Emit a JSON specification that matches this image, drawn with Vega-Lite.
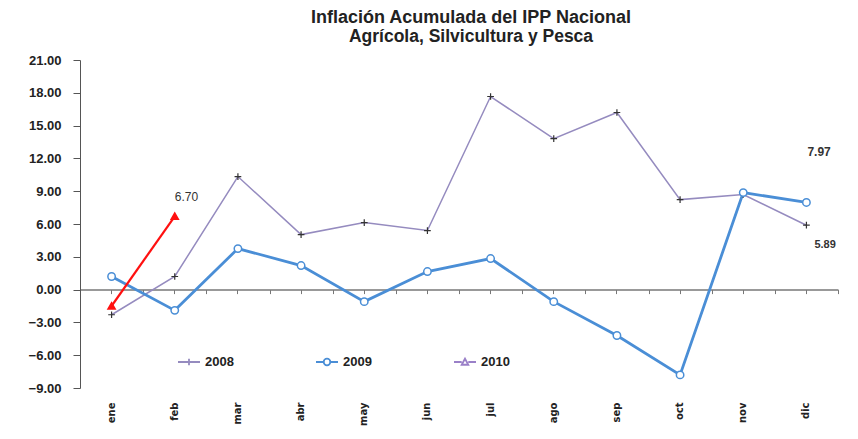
{
  "$schema": "https://vega.github.io/schema/vega-lite/v6.json",
  "width": 758,
  "height": 328,
  "autosize": "none",
  "padding": {"left": 80, "top": 60, "right": 20, "bottom": 51},
  "background": "white",
  "config": {
    "view": {"stroke": null},
    "font": "Liberation Sans",
    "axisY": {
      "title": null,
      "labelOverlap": false,
      "grid": false, "tickSize": 7, "tickColor": "#555", "domainColor": "#555",
      "labelPadding": 12, "labelFont": "Liberation Sans", "labelFontSize": 13,
      "labelFontWeight": "bold", "labelColor": "#222"
    }
  },
  "title": {
    "text": "Inflación Acumulada del IPP Nacional",
    "subtitle": "Agrícola, Silvicultura y Pesca",
    "font": "Liberation Sans",
    "fontSize": 18,
    "fontWeight": "bold",
    "color": "#222",
    "subtitleFont": "Liberation Sans",
    "subtitleFontSize": 17.5,
    "subtitleFontWeight": "bold",
    "subtitleColor": "#222",
    "subtitlePadding": 1,
    "anchor": "middle",
    "dx": 12,
    "offset": 9
  },
  "data": {
    "values": [
      {"mes": "ene", "serie": "2008", "valor": -2.3},
      {"mes": "feb", "serie": "2008", "valor": 1.2},
      {"mes": "mar", "serie": "2008", "valor": 10.34},
      {"mes": "abr", "serie": "2008", "valor": 5.03},
      {"mes": "may", "serie": "2008", "valor": 6.13},
      {"mes": "jun", "serie": "2008", "valor": 5.4},
      {"mes": "jul", "serie": "2008", "valor": 17.66},
      {"mes": "ago", "serie": "2008", "valor": 13.8},
      {"mes": "sep", "serie": "2008", "valor": 16.2},
      {"mes": "oct", "serie": "2008", "valor": 8.23},
      {"mes": "nov", "serie": "2008", "valor": 8.7},
      {"mes": "dic", "serie": "2008", "valor": 5.89, "etiqueta": "5.89"},
      {"mes": "ene", "serie": "2009", "valor": 1.2},
      {"mes": "feb", "serie": "2009", "valor": -1.9},
      {"mes": "mar", "serie": "2009", "valor": 3.75},
      {"mes": "abr", "serie": "2009", "valor": 2.2},
      {"mes": "may", "serie": "2009", "valor": -1.1},
      {"mes": "jun", "serie": "2009", "valor": 1.65},
      {"mes": "jul", "serie": "2009", "valor": 2.84},
      {"mes": "ago", "serie": "2009", "valor": -1.1},
      {"mes": "sep", "serie": "2009", "valor": -4.2},
      {"mes": "oct", "serie": "2009", "valor": -7.8},
      {"mes": "nov", "serie": "2009", "valor": 8.87},
      {"mes": "dic", "serie": "2009", "valor": 7.97, "etiqueta": "7.97"},
      {"mes": "ene", "serie": "2010", "valor": -1.5},
      {"mes": "feb", "serie": "2010", "valor": 6.7, "etiqueta": "6.70"}
    ]
  },
  "resolve": {"axis": {"x": "independent"}},
  "layer": [
    {
      "transform": [{"filter": "datum.serie != '2010'"}],
      "mark": {"type": "line"},
      "encoding": {
        "x": {
          "field": "mes", "type": "ordinal",
          "sort": ["ene","feb","mar","abr","may","jun","jul","ago","sep","oct","nov","dic"],
          "scale": {"paddingInner": 0, "paddingOuter": 0},
          "axis": {
            "orient": "bottom", "title": null, "domain": false, "ticks": false,
            "labelAngle": 270, "labelPadding": 14, "labelFont": "DejaVu Sans",
            "labelFontSize": 10, "labelFontWeight": "bold", "labelColor": "#222"
          }
        },
        "y": {
          "field": "valor", "type": "quantitative",
          "scale": {"domain": [-9, 21], "nice": false, "zero": false},
          "axis": {"title": null, "values": [-9,-6,-3,0,3,6,9,12,15,18,21], "tickCount": 20, "format": ".2f", "labelOverlap": false}
        },
        "color": {
          "field": "serie", "type": "nominal",
          "scale": {"domain": ["2008","2009","2010"], "range": ["#958bbf","#4a8ed6","#9a80c8"]},
          "legend": {
            "orient": "none", "legendX": 97, "legendY": 290, "direction": "horizontal",
            "columns": 3, "columnPadding": 78, "title": null,
            "symbolSize": 484, "symbolStrokeWidth": 2,
            "labelFont": "Liberation Sans", "labelFontSize": 13, "labelFontWeight": "bold",
            "labelColor": "#222", "labelOffset": 4,
            "encode": {
              "symbols": {
                "update": {
                  "shape": {"signal": "datum.value == '2008' ? 'M-1,0H1M0,-0.3V0.3M-0.3,0H0.3' : datum.value == '2009' ? 'M-1,0H-0.3M0.3,0H1M0.3,0A0.3,0.3 0 1,1 -0.3,0A0.3,0.3 0 1,1 0.3,0' : 'M-1,0H-0.3M0.3,0H1M-0.3,0.25L0,-0.3L0.3,0.25Z'"},
                  "fill": {"value": "white"},
                  "strokeWidth": {"value": 1.8}
                }
              }
            }
          }
        },
        "strokeWidth": {
          "field": "serie", "type": "nominal",
          "scale": {"domain": ["2008","2009"], "range": [1.5, 2.8]},
          "legend": null
        }
      }
    },
    {
      "transform": [{"filter": "datum.serie == '2010'"}],
      "mark": {"type": "line", "color": "#ff1010", "strokeWidth": 2.2},
      "encoding": {
        "x": {"field": "mes", "type": "ordinal", "sort": ["ene","feb","mar","abr","may","jun","jul","ago","sep","oct","nov","dic"], "axis": null},
        "y": {"field": "valor", "type": "quantitative"}
      }
    },
    {
      "mark": {"type": "rule", "color": "#777", "strokeWidth": 1.5},
      "encoding": {
        "x": {
          "field": "mes", "type": "ordinal",
          "sort": ["ene","feb","mar","abr","may","jun","jul","ago","sep","oct","nov","dic"],
          "axis": {
            "orient": "top", "offset": -229.6, "title": null, "labels": false,
            "domainColor": "#777", "domainWidth": 1.5, "tickColor": "#777", "tickSize": -4
          }
        },
        "y": {"datum": 0, "type": "quantitative"}
      }
    },
    {
      "transform": [{"filter": "datum.serie == '2008'"}],
      "mark": {"type": "point", "shape": "M-1,0H1M0,-1V1", "filled": false, "stroke": "#333", "strokeWidth": 1.2, "size": 45, "opacity": 1},
      "encoding": {
        "x": {
          "field": "mes", "type": "ordinal",
          "sort": ["ene","feb","mar","abr","may","jun","jul","ago","sep","oct","nov","dic"],
          "axis": {
            "orient": "top", "offset": -229.6, "title": null, "labels": false, "domain": false,
            "tickBand": "extent", "tickColor": "#777", "tickSize": -4
          }
        },
        "y": {"field": "valor", "type": "quantitative"}
      }
    },
    {
      "transform": [{"filter": "datum.serie == '2009'"}],
      "mark": {"type": "point", "shape": "circle", "filled": true, "fill": "white", "stroke": "#4a8ed6", "strokeWidth": 1.5, "size": 55, "opacity": 1},
      "encoding": {
        "x": {"field": "mes", "type": "ordinal", "sort": ["ene","feb","mar","abr","may","jun","jul","ago","sep","oct","nov","dic"], "axis": null},
        "y": {"field": "valor", "type": "quantitative"}
      }
    },
    {
      "transform": [{"filter": "datum.serie == '2010'"}],
      "mark": {"type": "point", "shape": "triangle-up", "filled": true, "fill": "#ff1010", "stroke": "#ff1010", "size": 40, "opacity": 1},
      "encoding": {
        "x": {"field": "mes", "type": "ordinal", "sort": ["ene","feb","mar","abr","may","jun","jul","ago","sep","oct","nov","dic"], "axis": null},
        "y": {"field": "valor", "type": "quantitative"}
      }
    },
    {
      "transform": [{"filter": "datum.serie == '2010' && datum.etiqueta"}],
      "mark": {"type": "text", "font": "Liberation Sans", "fontSize": 12, "color": "#333", "align": "left", "dx": 0, "dy": -19},
      "encoding": {
        "x": {"field": "mes", "type": "ordinal", "sort": ["ene","feb","mar","abr","may","jun","jul","ago","sep","oct","nov","dic"], "axis": null},
        "y": {"field": "valor", "type": "quantitative"},
        "text": {"field": "etiqueta"}
      }
    },
    {
      "transform": [{"filter": "datum.serie == '2009' && datum.etiqueta"}],
      "mark": {"type": "text", "font": "Liberation Sans", "fontSize": 12, "fontWeight": "bold", "color": "#333", "align": "left", "dx": 1, "dy": -50},
      "encoding": {
        "x": {"field": "mes", "type": "ordinal", "sort": ["ene","feb","mar","abr","may","jun","jul","ago","sep","oct","nov","dic"], "axis": null},
        "y": {"field": "valor", "type": "quantitative"},
        "text": {"field": "etiqueta"}
      }
    },
    {
      "transform": [{"filter": "datum.serie == '2008' && datum.etiqueta"}],
      "mark": {"type": "text", "font": "Liberation Sans", "fontSize": 11, "fontWeight": "bold", "color": "#333", "align": "left", "dx": 8, "dy": 20},
      "encoding": {
        "x": {"field": "mes", "type": "ordinal", "sort": ["ene","feb","mar","abr","may","jun","jul","ago","sep","oct","nov","dic"], "axis": null},
        "y": {"field": "valor", "type": "quantitative"},
        "text": {"field": "etiqueta"}
      }
    }
  ]
}
